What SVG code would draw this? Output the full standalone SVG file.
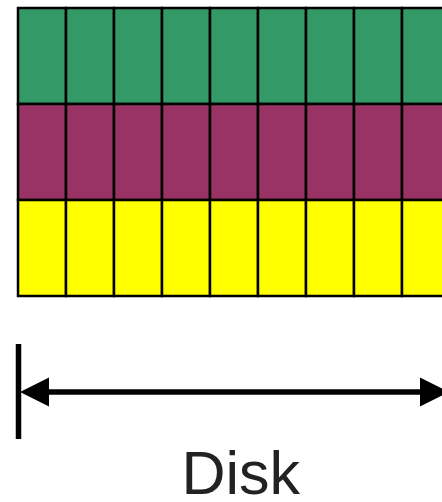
<svg xmlns="http://www.w3.org/2000/svg" width="442" height="502" viewBox="0 0 442 502">
  <style>
    .cell { stroke: #000; stroke-width: 2.5; }
    .g { fill: #339966; }
    .p { fill: #993366; }
    .y { fill: #ffff00; }
    .dim { stroke: #000; stroke-width: 5.5; fill: none; }
    .label { font-family: "Liberation Sans", Arial, sans-serif; font-size: 61px; fill: #222; }
  </style>
  <defs>
    <rect id="c" class="cell" width="48" height="96"/>
  </defs>

  <!-- three stacked rows of blocks -->
  <g id="row-green" class="g">
    <use href="#c" x="18" y="8"/><use href="#c" x="66" y="8"/><use href="#c" x="114" y="8"/>
    <use href="#c" x="162" y="8"/><use href="#c" x="210" y="8"/><use href="#c" x="258" y="8"/>
    <use href="#c" x="306" y="8"/><use href="#c" x="354" y="8"/><use href="#c" x="402" y="8"/>
  </g>
  <g id="row-purple" class="p">
    <use href="#c" x="18" y="104"/><use href="#c" x="66" y="104"/><use href="#c" x="114" y="104"/>
    <use href="#c" x="162" y="104"/><use href="#c" x="210" y="104"/><use href="#c" x="258" y="104"/>
    <use href="#c" x="306" y="104"/><use href="#c" x="354" y="104"/><use href="#c" x="402" y="104"/>
  </g>
  <g id="row-yellow" class="y">
    <use href="#c" x="18" y="200"/><use href="#c" x="66" y="200"/><use href="#c" x="114" y="200"/>
    <use href="#c" x="162" y="200"/><use href="#c" x="210" y="200"/><use href="#c" x="258" y="200"/>
    <use href="#c" x="306" y="200"/><use href="#c" x="354" y="200"/><use href="#c" x="402" y="200"/>
  </g>

  <!-- width dimension arrow -->
  <g id="connectors">
    <line class="dim" x1="18.5" y1="344" x2="18.5" y2="439"/>
    <line class="dim" x1="48" y1="392" x2="422" y2="392"/>
    <polygon points="20,392 49,377.5 49,406.5" fill="#000"/>
    <polygon points="449,392 420,377.5 420,406.5" fill="#000"/>
  </g>

  <g id="label">
    <text class="label" x="181.5" y="494">Disk</text>
  </g>
</svg>
